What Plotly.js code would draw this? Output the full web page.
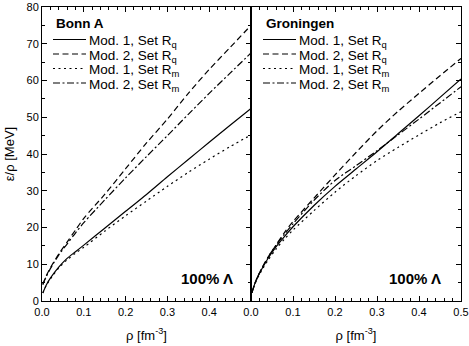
<!DOCTYPE html>
<html>
<head>
<meta charset="utf-8">
<script src="https://cdn.plot.ly/plotly-3.0.1.min.js"></script>
<style>html,body{margin:0;padding:0;background:#fff;}#chart{width:469px;height:346px;}</style>
</head>
<body>
<div id="chart"></div>
<script>
// densities (fm^-3)
const rho = [0.002, 0.01, 0.02, 0.04, 0.06, 0.08, 0.1, 0.15, 0.2, 0.25, 0.3, 0.35, 0.4, 0.45, 0.5];

// Bonn A panel: energy per baryon (MeV)
const bonnMod1Rq = [2.2, 4.3, 6.2, 9.2, 11.6, 13.4, 15.2, 19.8, 24.4, 29.0, 33.8, 38.5, 43.2, 47.8, 52.4];
const bonnMod2Rq = [4.5, 6.8, 9.0, 12.8, 16.0, 19.3, 22.5, 29.0, 36.0, 43.0, 49.5, 56.5, 63.0, 69.0, 75.0];
const bonnMod1Rm = [2.2, 4.2, 6.0, 9.0, 11.2, 13.0, 14.6, 19.0, 23.2, 27.2, 31.2, 35.0, 38.6, 42.0, 45.2];
const bonnMod2Rm = [4.5, 6.6, 8.8, 12.5, 15.5, 18.5, 21.3, 27.5, 33.5, 39.3, 45.0, 50.8, 56.5, 62.0, 67.5];

// Groningen panel
const gronMod1Rq = [2.2, 5.0, 7.5, 11.5, 14.8, 17.6, 20.2, 26.0, 31.2, 35.9, 40.6, 45.5, 50.4, 55.4, 60.4];
const gronMod2Rq = [2.2, 5.0, 7.6, 11.8, 15.3, 18.7, 21.6, 28.0, 34.3, 40.4, 46.3, 51.6, 56.5, 61.3, 66.0];
const gronMod1Rm = [2.2, 4.8, 7.2, 11.0, 14.2, 16.9, 19.3, 24.6, 29.6, 34.1, 38.2, 41.8, 45.2, 48.5, 51.5];
const gronMod2Rm = [2.2, 5.0, 7.6, 11.8, 15.2, 18.2, 21.0, 27.4, 32.8, 36.8, 40.9, 45.2, 49.5, 53.9, 58.3];

const seriesNames = ['Mod. 1, Set R<sub>q</sub>', 'Mod. 2, Set R<sub>q</sub>', 'Mod. 1, Set R<sub>m</sub>', 'Mod. 2, Set R<sub>m</sub>'];
const panelTitles = ['Bonn A', 'Groningen'];
const panelLabel = '100% Λ';
const leftXTicks = [0, 0.1, 0.2, 0.3, 0.4];
const rightXTicks = [0, 0.1, 0.2, 0.3, 0.4, 0.5];
const yTicks = [0, 10, 20, 30, 40, 50, 60, 70, 80];

const dashes = ['solid', '6px,3.5px', '2px,3.5px', '7px,2.5px,2px,2.5px'];
const FONT = 'Arial, "Liberation Sans", sans-serif';

// pixel geometry of plot area
const W = 469, H = 346, ML = 42, MR = 8, MT = 7, MB = 45;
const PW = W - ML - MR, PH = H - MT - MB;
const px = v => (v - ML) / PW;
const py = v => 1 - (v - MT) / PH;

function mk(y, i, xa, ya) {
  return {
    x: rho, y: y, type: 'scatter', mode: 'lines', showlegend: false,
    name: seriesNames[i], xaxis: xa, yaxis: ya,
    line: {color: '#000', width: 1.2, dash: dashes[i], shape: 'spline', smoothing: 0.8}
  };
}

const traces = [
  mk(bonnMod1Rq, 0, 'x', 'y'),
  mk(bonnMod2Rq, 1, 'x', 'y'),
  mk(bonnMod1Rm, 2, 'x', 'y'),
  mk(bonnMod2Rm, 3, 'x', 'y'),
  mk(gronMod1Rq, 0, 'x2', 'y2'),
  mk(gronMod2Rq, 1, 'x2', 'y2'),
  mk(gronMod1Rm, 2, 'x2', 'y2'),
  mk(gronMod2Rm, 3, 'x2', 'y2')
];

// custom legends (key lines + labels)
const annotations = [];
const shapes = [];
const legendLeft = [53, 263];
const rowY = [39.5, 54, 68.5, 83];
panelTitles.forEach((t, p) => {
  const x0 = legendLeft[p];
  annotations.push({xref: 'paper', yref: 'paper', x: px(x0 + 1), y: py(24), xanchor: 'left', yanchor: 'middle',
    text: '<b>' + t + '</b>', showarrow: false, font: {family: FONT, size: 13.5, color: '#000'}});
  seriesNames.forEach((n, i) => {
    shapes.push({type: 'line', xref: 'paper', yref: 'paper', x0: px(x0), x1: px(x0 + 33), y0: py(rowY[i]), y1: py(rowY[i]),
      line: {color: '#000', width: 1.2, dash: dashes[i]}});
    annotations.push({xref: 'paper', yref: 'paper', x: px(x0 + 34), y: py(rowY[i]), xanchor: 'left', yanchor: 'middle',
      yshift: -2, text: n, showarrow: false, font: {family: FONT, size: 13.5, color: '#000'}});
  });
});
annotations.push(
  {xref: 'x domain', yref: 'y domain', x: 0.925, y: 0.075, xanchor: 'right', yanchor: 'middle',
   text: '<b>' + panelLabel + '</b>', showarrow: false, font: {family: FONT, size: 15, color: '#000'}},
  {xref: 'x2 domain', yref: 'y2 domain', x: 0.915, y: 0.075, xanchor: 'right', yanchor: 'middle',
   text: '<b>' + panelLabel + '</b>', showarrow: false, font: {family: FONT, size: 15, color: '#000'}}
);

const split = 209 / PW;
const xCommon = {
  range: [0, 0.5], showline: true, linecolor: '#000', linewidth: 1,
  mirror: 'ticks', ticks: 'inside', ticklen: 5, tickwidth: 1, tickcolor: '#000',
  tickformat: '.1f', showgrid: false, zeroline: false, ticklabelstandoff: 1,
  tickfont: {family: FONT, size: 11, color: '#000'},
  minor: {dtick: 0.02, ticks: 'inside', ticklen: 3, tickwidth: 1, tickcolor: '#000', showgrid: false},
  title: {text: 'ρ [fm<sup>-3</sup>]', font: {family: FONT, size: 13, color: '#000'}, standoff: 13}
};

const layout = {
  width: W, height: H,
  margin: {l: ML, r: MR, t: MT, b: MB},
  paper_bgcolor: '#fff', plot_bgcolor: '#fff',
  showlegend: false,
  font: {family: FONT, color: '#000'},
  xaxis: Object.assign({}, xCommon, {domain: [0, split], anchor: 'y', tickmode: 'array', tickvals: leftXTicks}),
  xaxis2: Object.assign({}, xCommon, {domain: [split, 1], anchor: 'y2', tickmode: 'array', tickvals: rightXTicks,
    title: Object.assign({}, xCommon.title)}),
  yaxis: {
    range: [0, 80], anchor: 'x', showline: true, linecolor: '#000', linewidth: 1,
    mirror: 'ticks', ticks: 'inside', ticklen: 5, tickwidth: 1, tickcolor: '#000',
    tickmode: 'array', tickvals: yTicks, showgrid: false, zeroline: false,
    tickfont: {family: FONT, size: 11, color: '#000'},
    minor: {dtick: 5, ticks: 'inside', ticklen: 3, tickwidth: 1, tickcolor: '#000', showgrid: false},
    title: {text: 'ε/ρ [MeV]', font: {family: FONT, size: 13, color: '#000'}, standoff: 8}
  },
  yaxis2: {
    range: [0, 80], anchor: 'x2', side: 'right', showline: true, linecolor: '#000', linewidth: 1,
    mirror: true, ticks: 'inside', ticklen: 5, tickwidth: 1, tickcolor: '#000',
    tickmode: 'array', tickvals: yTicks, showticklabels: false, showgrid: false, zeroline: false,
    minor: {dtick: 5, ticks: 'inside', ticklen: 3, tickwidth: 1, tickcolor: '#000', showgrid: false}
  },
  annotations: annotations,
  shapes: shapes
};

Plotly.newPlot('chart', traces, layout, {displayModeBar: false, staticPlot: true});
</script>
</body>
</html>
